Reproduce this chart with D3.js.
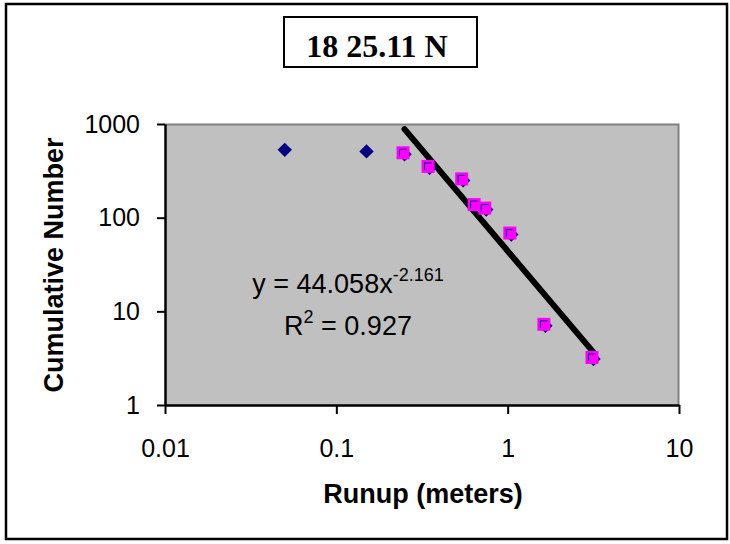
<!DOCTYPE html>
<html>
<head>
<meta charset="utf-8">
<script src="https://cdn.jsdelivr.net/npm/d3@7"></script>
<style>
  html, body { margin: 0; padding: 0; background: #fff; }
  svg { display: block; }
</style>
</head>
<body>
<svg id="chart" width="730" height="544"></svg>
<script>
// all observations (navy diamonds)
const runupAll = [0.05, 0.15, 0.25, 0.35, 0.55, 0.65, 0.75, 1.05, 1.66, 3.17];
const countAll = [530, 510, 475, 340, 250, 133, 122, 66, 7, 3.1];

// observations used for the power fit (magenta squares)
const runupFit = [0.25, 0.35, 0.55, 0.65, 0.75, 1.05, 1.66, 3.17];
const countFit = [475, 340, 250, 133, 122, 66, 7, 3.1];

// trendline y = a * x^b as printed on the chart
const trendCoef = 44.058;
const trendExp = -2.161;
const rSquared = 0.927;

const xTicks = [0.01, 0.1, 1, 10];
const yTicks = [1, 10, 100, 1000];

const titleText = '18 25.11 N';
const xTitle = 'Runup (meters)';
const yTitle = 'Cumulative Number';


const margin = { top: 124, right: 51, bottom: 139, left: 165 };
const W = 730, H = 544;
const width = W - margin.left - margin.right;
const height = H - margin.top - margin.bottom;

const svg = d3.select('#chart');

// outer chart border
svg.append('rect')
  .attr('x', 6).attr('y', 4)
  .attr('width', 721).attr('height', 535)
  .attr('fill', '#fff')
  .attr('stroke', '#000')
  .attr('stroke-width', 2.5);

// title box
svg.append('rect')
  .attr('x', 284).attr('y', 17)
  .attr('width', 193).attr('height', 50)
  .attr('fill', '#fff')
  .attr('stroke', '#000')
  .attr('stroke-width', 2);

svg.append('text')
  .attr('x', 377).attr('y', 57)
  .attr('text-anchor', 'middle')
  .style('font-family', '"Liberation Serif", "Times New Roman", serif')
  .style('font-weight', 'bold')
  .style('font-size', '32px')
  .text(titleText);


const chart = svg.append('g')
  .attr('transform', `translate(${margin.left},${margin.top})`);

// scales
const xScale = d3.scaleLog()
  .domain([0.01, 10])
  .range([0, width]);

const yScale = d3.scaleLog()
  .domain([1, 1000])
  .range([height, 0]);

// plot area
chart.append('rect')
  .attr('width', width)
  .attr('height', height)
  .attr('fill', '#c0c0c0');

chart.append('path')
  .attr('d', `M0,0.5H${width - 0.5}V${height}`)
  .attr('fill', 'none')
  .attr('stroke', '#808080')
  .attr('stroke-width', 2);


// axes
const xaxis = d3.axisBottom(xScale)
  .tickValues(xTicks)
  .tickFormat(d => String(d))
  .tickSize(9)
  .tickSizeOuter(0);

const yaxis = d3.axisLeft(yScale)
  .tickValues(yTicks)
  .tickFormat(d3.format('d'))
  .tickSize(8)
  .tickSizeOuter(0)
  .tickPadding(17);

const gx = chart.append('g')
  .attr('transform', `translate(0, ${height})`)
  .call(xaxis);

const gy = chart.append('g')
  .call(yaxis);

[gx, gy].forEach(g => {
  g.select('.domain').attr('stroke', '#000').attr('stroke-width', 2.5);
  g.selectAll('.tick line').attr('stroke', '#000').attr('stroke-width', 2);
  g.selectAll('.tick text')
    .attr('fill', '#000')
    .style('font-family', '"Liberation Sans", Arial, sans-serif')
    .style('font-size', '25px');
});

gx.selectAll('.tick text').attr('y', 52).attr('dy', 0);


// trendline (power fit) across the fitted range
const fitExtent = d3.extent(runupFit);
const trendPts = fitExtent.map(x => [x, trendCoef * Math.pow(x, trendExp)]);

chart.append('path')
  .datum(trendPts)
  .attr('d', d3.line()
    .x(d => xScale(d[0]))
    .y(d => yScale(d[1])))
  .attr('fill', 'none')
  .attr('stroke', '#000')
  .attr('stroke-width', 6)
  .attr('stroke-linecap', 'round');


// navy diamonds, all points
const allData = runupAll.map((x, i) => ({ x, y: countAll[i] }));
const r = 7.2;

chart.selectAll('.diamond')
  .data(allData)
  .enter()
  .append('path')
  .attr('class', 'diamond')
  .attr('transform', d => `translate(${xScale(d.x)},${yScale(d.y)})`)
  .attr('d', `M0,${-r}L${r},0L0,${r}L${-r},0Z`)
  .attr('fill', '#000080');


// magenta squares, fitted points (drawn slightly up-left of the diamonds)
const fitData = runupFit.map((x, i) => ({ x, y: countFit[i] }));

const sq = chart.selectAll('.sq')
  .data(fitData)
  .enter()
  .append('g')
  .attr('class', 'sq')
  .attr('transform', d => `translate(${xScale(d.x) - 1.5},${yScale(d.y) - 1.5})`);

sq.append('rect')
  .attr('x', -6.5).attr('y', -6.5)
  .attr('width', 13).attr('height', 13)
  .attr('fill', '#ff00ff');

sq.append('path')
  .attr('d', 'M-3.5,3.5V-3.5H3.5')
  .attr('fill', 'none')
  .attr('stroke', '#000080')
  .attr('stroke-width', 1);


// trendline equation
const eqFont = '"Liberation Sans", Arial, sans-serif';

const eq1 = svg.append('text')
  .attr('x', 348).attr('y', 293)
  .attr('text-anchor', 'middle')
  .style('font-family', eqFont)
  .style('font-size', '27px');
eq1.append('tspan').text('y = ' + trendCoef.toFixed(3) + 'x');
eq1.append('tspan')
  .attr('dy', -12)
  .style('font-size', '18px')
  .text(String(trendExp));

const eq2 = svg.append('text')
  .attr('x', 348).attr('y', 335)
  .attr('text-anchor', 'middle')
  .style('font-family', eqFont)
  .style('font-size', '27px');
eq2.append('tspan').text('R');
eq2.append('tspan')
  .attr('dy', -12)
  .style('font-size', '18px')
  .text('2');
eq2.append('tspan')
  .attr('dy', 12)
  .text(' = ' + rSquared.toFixed(3));


// axis titles
svg.append('text')
  .attr('x', 423).attr('y', 503)
  .attr('text-anchor', 'middle')
  .style('font-family', eqFont)
  .style('font-weight', 'bold')
  .style('font-size', '27px')
  .text(xTitle);

svg.append('text')
  .attr('transform', 'translate(63,265) rotate(-90)')
  .attr('text-anchor', 'middle')
  .style('font-family', eqFont)
  .style('font-weight', 'bold')
  .style('font-size', '27px')
  .text(yTitle);
</script>
</body>
</html>
